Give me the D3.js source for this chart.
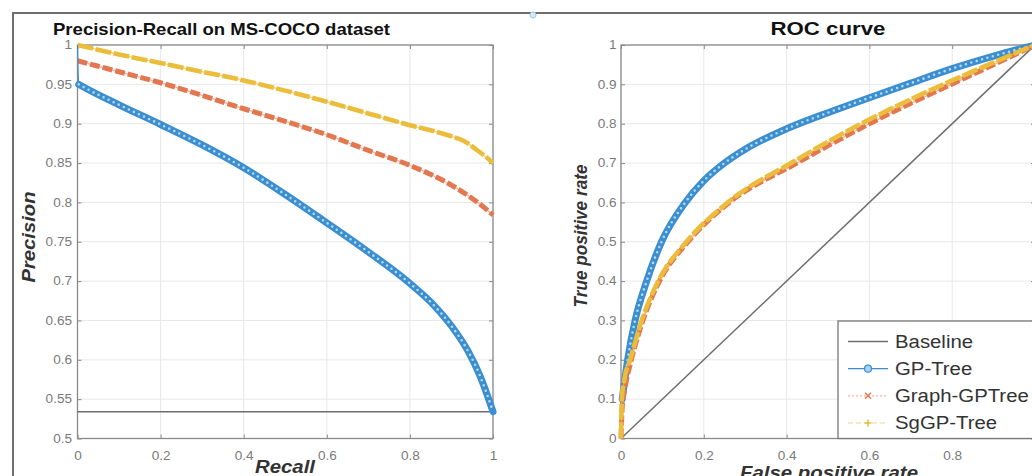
<!DOCTYPE html>
<html><head><meta charset="utf-8">
<script src="https://cdn.jsdelivr.net/npm/d3@7/dist/d3.min.js"></script>
<style>body{margin:0;background:#fff}svg{display:block}</style>
</head><body>
<svg id="c" width="1032" height="476"></svg>
<script>
// ---------- data ----------
const prTicksX = [0, 0.2, 0.4, 0.6, 0.8, 1];
const prTicksY = [0.5, 0.55, 0.6, 0.65, 0.7, 0.75, 0.8, 0.85, 0.9, 0.95, 1];
const rocTicksX = [0, 0.2, 0.4, 0.6, 0.8, 1];
const rocTicksY = [0, 0.1, 0.2, 0.3, 0.4, 0.5, 0.6, 0.7, 0.8, 0.9, 1];

const prBaseline = 0.534;

const gpRecall    = [0, 0.003, 0.02, 0.1, 0.2, 0.3, 0.4, 0.5, 0.6, 0.7, 0.8, 0.86, 0.9, 0.94, 0.97, 1.0];
const gpPrecision = [1.0, 0.95, 0.945, 0.924, 0.899, 0.873, 0.844, 0.81, 0.774, 0.737, 0.697, 0.668, 0.643, 0.611, 0.578, 0.534];

const graphRecall    = [0, 0.1, 0.2, 0.3, 0.4, 0.5, 0.6, 0.7, 0.8, 0.9, 0.95, 0.98, 1.0];
const graphPrecision = [0.98, 0.966, 0.952, 0.936, 0.919, 0.903, 0.886, 0.866, 0.847, 0.822, 0.805, 0.793, 0.784];

const sgRecall    = [0, 0.1, 0.2, 0.3, 0.4, 0.5, 0.6, 0.7, 0.8, 0.9, 0.93, 0.96, 0.985, 1.0];
const sgPrecision = [1.0, 0.988, 0.977, 0.966, 0.955, 0.942, 0.928, 0.913, 0.898, 0.884, 0.878, 0.867, 0.857, 0.85];

const rocBaseFpr = [0, 1];
const rocBaseTpr = [0, 1];

const gpFpr = [0, 0.003, 0.016, 0.034, 0.062, 0.098, 0.154, 0.2, 0.25, 0.3, 0.4, 0.5, 0.6, 0.7, 0.8, 0.9, 1.0];
const gpTpr = [0, 0.1, 0.2, 0.3, 0.4, 0.5, 0.598, 0.655, 0.7, 0.735, 0.787, 0.828, 0.866, 0.903, 0.94, 0.972, 1.0];

const graphFpr = [0, 0.003, 0.01, 0.025, 0.053, 0.093, 0.162, 0.262, 0.425, 0.6, 0.7, 0.8, 0.9, 1.0];
const graphTpr = [0, 0.08, 0.13, 0.2, 0.3, 0.4, 0.5, 0.6, 0.7, 0.8, 0.852, 0.901, 0.95, 1.0];

const sgFpr = [0, 0.002, 0.008, 0.022, 0.05, 0.09, 0.158, 0.258, 0.419, 0.58, 0.7, 0.8, 0.9, 1.0];
const sgTpr = [0, 0.1, 0.15, 0.2, 0.3, 0.4, 0.5, 0.6, 0.705, 0.8, 0.862, 0.91, 0.956, 1.0];

const legendNames = ["Baseline", "GP-Tree", "Graph-GPTree", "SgGP-Tree"];

// ---------- styles ----------
const FONT = "'Liberation Sans', Arial, Helvetica, sans-serif";
const C = {blue: "#3b8fd0", blueDot: "#b4d8f0", red: "#e3774f", yellow: "#ebbd3b", base: "#6e6e6e", axis: "#8a8a8a", grid: "#e8e8e8", tick: "#7a7a7a"};
const STRETCH = 1.13;
const W = 1032, H = 476;

const svg = d3.select("#c");
svg.append("rect").attr("width", W).attr("height", H).attr("fill", "#fff");

function stretch(sel, f) {
  sel.each(function () {
    const w = this.getComputedTextLength();
    if (w > 0) d3.select(this).attr("textLength", w * f).attr("lengthAdjust", "spacingAndGlyphs");
  });
}
function fixedLen(sel, L) { sel.attr("textLength", L).attr("lengthAdjust", "spacingAndGlyphs"); }
const fmt = d => String(+d.toFixed(2));

function drawAxes(x, y, xt, yt, padL) {
  const [x0, x1] = x.range(), [y0, y1] = y.range();
  const g = svg.append("g");
  g.append("g").selectAll("line").data(xt).join("line")
    .attr("x1", d => x(d)).attr("x2", d => x(d)).attr("y1", y0).attr("y2", y1)
    .attr("stroke", C.grid).attr("stroke-width", 1);
  g.append("g").selectAll("line").data(yt).join("line")
    .attr("y1", d => y(d)).attr("y2", d => y(d)).attr("x1", x0).attr("x2", x1)
    .attr("stroke", C.grid).attr("stroke-width", 1);
  const style = a => {
    a.select(".domain").remove();
    a.selectAll(".tick line").attr("stroke", C.axis);
    a.selectAll("text").attr("font-family", FONT).attr("font-size", 12).attr("fill", C.tick);
  };
  // labels whose position falls outside the picture are not shown (cropped in the original)
  const fmtX = d => (x(d) > W - 4 ? "" : fmt(d));
  g.append("g").attr("transform", `translate(0,${y0})`)
    .call(d3.axisBottom(x).tickValues(xt).tickSize(-4).tickPadding(13).tickFormat(fmtX)).call(style);
  g.append("g").attr("transform", `translate(0,${y1})`)
    .call(d3.axisTop(x).tickValues(xt).tickSize(-4).tickFormat("")).call(style);
  g.append("g").attr("transform", `translate(${x0},0)`)
    .call(d3.axisLeft(y).tickValues(yt).tickSize(-4).tickPadding(padL).tickFormat(fmt)).call(style);
  g.append("g").attr("transform", `translate(${x1},0)`)
    .call(d3.axisRight(y).tickValues(yt).tickSize(-4).tickFormat("")).call(style);
  g.selectAll("text").call(stretch, STRETCH);
  g.append("rect").attr("x", x0).attr("y", y1).attr("width", x1 - x0).attr("height", y0 - y1)
    .attr("fill", "none").attr("stroke", C.axis).attr("stroke-width", 1.3);
  return g;
}

function band(g, x, y, xs, ys, kind) {
  const pts = xs.map((v, i) => [v, ys[i]]);
  const line = d3.line().x(d => x(d[0])).y(d => y(d[1])).curve(d3.curveMonotoneX);
  if (kind === "blue") {
    g.append("path").attr("d", line(pts)).attr("fill", "none").attr("stroke", C.blue).attr("stroke-width", 1.2);
    const p2 = pts.slice(1);
    g.append("path").attr("d", line(p2)).attr("fill", "none").attr("stroke", C.blue)
      .attr("stroke-width", 7).attr("stroke-linecap", "round").attr("stroke-linejoin", "round");
    g.append("path").attr("d", line(p2)).attr("fill", "none").attr("stroke", C.blueDot)
      .attr("stroke-width", 2.6).attr("stroke-dasharray", "0 5.6").attr("stroke-linecap", "round");
  } else if (kind === "red") {
    g.append("path").attr("d", line(pts)).attr("fill", "none").attr("stroke", C.red).attr("stroke-opacity", 0.5).attr("stroke-width", 1.5);
    g.append("path").attr("d", line(pts)).attr("fill", "none").attr("stroke", C.red)
      .attr("stroke-width", 5).attr("stroke-dasharray", "10 3");
  } else if (kind === "yellow") {
    g.append("path").attr("d", line(pts)).attr("fill", "none").attr("stroke", C.yellow).attr("stroke-opacity", 0.6).attr("stroke-width", 1.5);
    g.append("path").attr("d", line(pts)).attr("fill", "none").attr("stroke", C.yellow)
      .attr("stroke-width", 4.6).attr("stroke-dasharray", "16 2.5");
  } else {
    g.append("path").attr("d", line(pts)).attr("fill", "none").attr("stroke", C.base).attr("stroke-width", 1.5);
  }
}

// outer frame
svg.append("path").attr("d", "M13,476 L13,13 L1032,13").attr("fill", "none").attr("stroke", "#6f6f6f").attr("stroke-width", 2);
svg.append("circle").attr("cx", 533).attr("cy", 15).attr("r", 3).attr("fill", "#d6e9f7").attr("stroke", "#9cc7e8").attr("stroke-width", 1);

// ---------- left: PR ----------
const xPR = d3.scaleLinear().domain([0, 1]).range([77.5, 493]);
const yPR = d3.scaleLinear().domain([0.5, 1]).range([438.5, 45]);
drawAxes(xPR, yPR, prTicksX, prTicksY, 5.5);
svg.append("clipPath").attr("id", "clipL").append("rect").attr("x", 70).attr("y", 38).attr("width", 430).attr("height", 405);
const gL = svg.append("g").attr("clip-path", "url(#clipL)");
band(gL, xPR, yPR, [0, 1], [prBaseline, prBaseline], "base");
band(gL, xPR, yPR, sgRecall, sgPrecision, "yellow");
band(gL, xPR, yPR, graphRecall, graphPrecision, "red");
band(gL, xPR, yPR, gpRecall, gpPrecision, "blue");

svg.append("text").attr("x", 53).attr("y", 35).text("Precision-Recall on MS-COCO dataset")
  .attr("font-family", FONT).attr("font-weight", "bold").attr("font-size", 17).attr("fill", "#111")
  .call(fixedLen, 337);
svg.append("text").attr("x", 285).attr("y", 473).attr("text-anchor", "middle").text("Recall")
  .attr("font-family", FONT).attr("font-weight", "bold").attr("font-style", "italic").attr("font-size", 18).attr("fill", "#333")
  .call(fixedLen, 60);
svg.append("text").attr("transform", "translate(35,237) rotate(-90)").attr("text-anchor", "middle").text("Precision")
  .attr("font-family", FONT).attr("font-weight", "bold").attr("font-style", "italic").attr("font-size", 19).attr("fill", "#333")
  .call(fixedLen, 91);

// ---------- right: ROC ----------
const xR = d3.scaleLinear().domain([0, 1]).range([621, 1035]);
const yR = d3.scaleLinear().domain([0, 1]).range([438.5, 45]);
drawAxes(xR, yR, rocTicksX, rocTicksY, 4.5);
svg.append("clipPath").attr("id", "clipR").append("rect").attr("x", 612).attr("y", 38).attr("width", 430).attr("height", 405);
const gR = svg.append("g").attr("clip-path", "url(#clipR)");
band(gR, xR, yR, rocBaseFpr, rocBaseTpr, "base");
band(gR, xR, yR, gpFpr, gpTpr, "blue");
band(gR, xR, yR, graphFpr, graphTpr, "red");
band(gR, xR, yR, sgFpr, sgTpr, "yellow");

svg.append("text").attr("x", 828).attr("y", 35).attr("text-anchor", "middle").text("ROC curve")
  .attr("font-family", FONT).attr("font-weight", "bold").attr("font-size", 18.5).attr("fill", "#111")
  .call(fixedLen, 115);
svg.append("text").attr("x", 829).attr("y", 479).attr("text-anchor", "middle").text("False positive rate")
  .attr("font-family", FONT).attr("font-weight", "bold").attr("font-style", "italic").attr("font-size", 18).attr("fill", "#333")
  .call(fixedLen, 178);
svg.append("text").attr("transform", "translate(587,236) rotate(-90)").attr("text-anchor", "middle").text("True positive rate")
  .attr("font-family", FONT).attr("font-weight", "bold").attr("font-style", "italic").attr("font-size", 18).attr("fill", "#333")
  .call(fixedLen, 143);

// ---------- legend ----------
const lg = svg.append("g");
lg.append("rect").attr("x", 838).attr("y", 321).attr("width", 210).attr("height", 117.5)
  .attr("fill", "#fff").attr("stroke", "#777").attr("stroke-width", 1.3);
const ly = d3.scalePoint().domain(legendNames).range([341.5, 423]);
const lx0 = 848, lx1 = 888, lxm = 868;
legendNames.forEach((name, i) => {
  const yy = ly(name);
  if (i === 0) {
    lg.append("line").attr("x1", lx0).attr("x2", lx1).attr("y1", yy).attr("y2", yy).attr("stroke", C.base).attr("stroke-width", 1.3);
  } else if (i === 1) {
    lg.append("line").attr("x1", lx0).attr("x2", lx1).attr("y1", yy).attr("y2", yy).attr("stroke", C.blue).attr("stroke-width", 1.2);
    lg.append("circle").attr("cx", lxm).attr("cy", yy).attr("r", 3.5).attr("fill", "#a9d1ee").attr("stroke", C.blue).attr("stroke-width", 1.2);
  } else if (i === 2) {
    lg.append("line").attr("x1", lx0).attr("x2", lx1).attr("y1", yy).attr("y2", yy).attr("stroke", "#f1b49a").attr("stroke-width", 1.2).attr("stroke-dasharray", "2 2");
    lg.append("path").attr("d", `M${lxm-3},${yy-3}L${lxm+3},${yy+3}M${lxm-3},${yy+3}L${lxm+3},${yy-3}`).attr("stroke", C.red).attr("stroke-width", 1.4);
  } else {
    lg.append("line").attr("x1", lx0).attr("x2", lx1).attr("y1", yy).attr("y2", yy).attr("stroke", "#efd38a").attr("stroke-width", 1.2).attr("stroke-dasharray", "5 3");
    lg.append("path").attr("d", `M${lxm-3.5},${yy}L${lxm+3.5},${yy}M${lxm},${yy-3.5}L${lxm},${yy+3.5}`).attr("stroke", C.yellow).attr("stroke-width", 1.6);
  }
  lg.append("text").attr("x", 895).attr("y", yy).attr("dy", "0.36em").text(name)
    .attr("font-family", FONT).attr("font-size", 18).attr("fill", "#333").call(stretch, STRETCH);
});
</script>
</body></html>
